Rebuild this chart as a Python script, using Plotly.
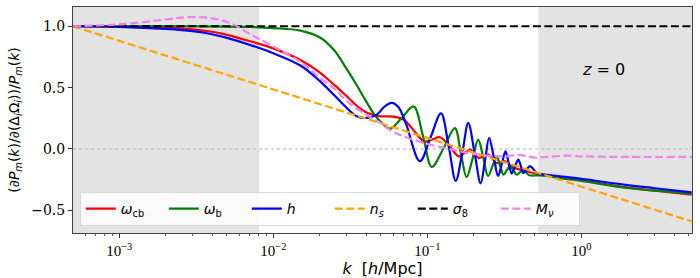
import plotly.graph_objects as go

# ---------------- data ----------------
# omega_cb (red)
k_cb = [5e-4, 1e-3, 2e-3, 3e-3, 4e-3, 5e-3, 7e-3, 0.01, 0.015, 0.02, 0.025, 0.03, 0.035,
        0.04, 0.045, 0.05, 0.06, 0.07, 0.08, 0.096, 0.108, 0.121, 0.14, 0.16, 0.175, 0.19,
        0.202, 0.215, 0.232, 0.25, 0.265, 0.28, 0.30, 0.32, 0.36, 0.42, 0.5, 0.6, 1.0,
        2.0, 3.0, 5.2]
v_cb = [1.0, 0.998, 0.99, 0.975, 0.955, 0.93, 0.88, 0.82, 0.725, 0.625, 0.52, 0.43, 0.35,
        0.30, 0.278, 0.266, 0.264, 0.24, 0.165, 0.06, 0.078, 0.095, 0.02, -0.06, -0.033, -0.006,
        -0.04, -0.073, -0.06, -0.046, -0.08, -0.114, -0.107, -0.10, -0.15, -0.175, -0.20, -0.215, -0.255,
        -0.315, -0.34, -0.372]

# omega_b (green)
k_b = [5e-4, 1e-3, 3e-3, 7e-3, 0.01, 0.015, 0.02, 0.025, 0.03, 0.035, 0.04, 0.045,
       0.05, 0.0572, 0.068, 0.0814, 0.094, 0.107, 0.128, 0.151, 0.165, 0.18, 0.197, 0.214,
       0.231, 0.248, 0.265, 0.282, 0.297, 0.312, 0.328, 0.344, 0.362, 0.381, 0.40, 0.42,
       0.44, 0.46, 0.55, 0.75, 1.0, 2.0, 3.0, 5.2]
v_b = [1.0, 1.0, 1.0, 0.995, 0.985, 0.965, 0.91, 0.80, 0.65, 0.515, 0.39, 0.285,
       0.22, 0.165, 0.25, 0.347, 0.10, -0.147, 0.01, 0.17, -0.03, -0.23, -0.077, 0.076,
       -0.072, -0.22, -0.14, -0.06, -0.135, -0.21, -0.175, -0.14, -0.175, -0.21, -0.19, -0.17,
       -0.193, -0.215, -0.215, -0.24, -0.26, -0.318, -0.34, -0.364]

# h (blue)
k_h = [5e-4, 1e-3, 2e-3, 3e-3, 4e-3, 5e-3, 7e-3, 0.01, 0.015, 0.02, 0.025, 0.03, 0.035,
       0.0405, 0.047, 0.053, 0.0587, 0.065, 0.0725, 0.0895, 0.105, 0.1227, 0.138, 0.153,
       0.169, 0.1845, 0.203, 0.222, 0.237, 0.252, 0.27, 0.288, 0.305, 0.322, 0.337, 0.353,
       0.371, 0.39, 0.405, 0.42, 0.442, 0.464, 0.52, 0.6, 0.75, 1.0, 2.0, 3.0, 5.2]
v_h = [1.0, 0.995, 0.978, 0.96, 0.935, 0.905, 0.85, 0.78, 0.68, 0.555, 0.435, 0.334, 0.265,
       0.253, 0.28, 0.347, 0.375, 0.34, 0.21, -0.10, 0.095, 0.29, 0.015, -0.26,
       -0.025, 0.21, -0.035, -0.28, -0.095, 0.09, -0.065, -0.22, -0.12, -0.02, -0.11, -0.20,
       -0.143, -0.087, -0.14, -0.196, -0.168, -0.14, -0.20, -0.21, -0.225, -0.243, -0.295, -0.32, -0.354]

# n_s (orange)
k_ns = [5e-4, 1e-3, 0.01, 0.1, 1.0, 5.2]
v_ns = [1.0, 0.88, 0.485, 0.09, -0.305, -0.59]

# sigma_8 (black)
k_s8 = [5e-4, 5.2]
v_s8 = [1.0, 1.0]

# M_nu (violet)
k_nu = [5e-4, 1e-3, 2e-3, 2.9e-3, 4e-3, 5e-3, 6e-3, 7e-3, 0.01, 0.015, 0.02, 0.025,
        0.03, 0.04, 0.05, 0.06, 0.075, 0.1, 0.14, 0.2, 0.3, 0.4, 0.5, 0.6, 0.8, 1.0,
        2.0, 5.2]
v_nu = [1.0, 1.015, 1.055, 1.075, 1.065, 1.035, 0.99, 0.94, 0.835, 0.71, 0.58, 0.49,
        0.39, 0.28, 0.21, 0.14, 0.09, 0.04, 0.0, -0.04, -0.06, -0.05, -0.07, -0.065,
        -0.055, -0.06, -0.065, -0.065]

# shaded k ranges
shade_ranges = [(4e-4, 0.0081), (0.525, 10.0)]

# axis ticks
x_tickvals = [1e-3, 1e-2, 1e-1, 1e0]
x_ticktext = ["10<sup>−3</sup>", "10<sup>−2</sup>", "10<sup>−1</sup>", "10<sup>0</sup>"]
y_tickvals = [-0.5, 0.0, 0.5, 1.0]
y_ticktext = ["−0.5", "0.0", "0.5", "1.0"]

# ---------------- figure ----------------
series = [
    ("<i>ω</i><sub>cb</sub>", k_cb, v_cb, "#ff0000", "solid", "spline"),
    ("<i>ω</i><sub>b</sub>", k_b, v_b, "#008000", "solid", "spline"),
    ("<i>h</i>", k_h, v_h, "#0000ff", "solid", "spline"),
    ("<i>n<sub>s</sub></i>", k_ns, v_ns, "#ffa500", "8px,3.5px", "linear"),
    ("<i>σ</i><sub>8</sub>", k_s8, v_s8, "#000000", "8px,3.5px", "linear"),
    ("<i>M<sub>ν</sub></i>", k_nu, v_nu, "#ee82ee", "8px,3.5px", "spline"),
]

fig = go.Figure()
for name, k, v, color, dash, shape in series:
    line = dict(color=color, width=2.2, dash=dash, shape=shape)
    if shape == "spline":
        line["smoothing"] = 1.0
    fig.add_trace(go.Scatter(x=k, y=v, mode="lines", name=name, line=line))

for x0, x1 in shade_ranges:
    fig.add_shape(type="rect", xref="x", yref="paper", x0=x0, x1=x1, y0=0, y1=1,
                  fillcolor="#e3e3e3", line=dict(width=0), layer="below")

fig.add_shape(type="line", xref="paper", yref="y", x0=0, x1=1, y0=0, y1=0,
              line=dict(color="#b0b0b0", width=1, dash="dot"), layer="below")

minor_x = [m * 10.0 ** e for e in range(-4, 1) for m in range(2, 10)]

fig.update_xaxes(
    type="log", range=[-3.3006, 0.7188], automargin=False,
    tickvals=x_tickvals, ticktext=x_ticktext,
    ticks="outside", ticklen=4, tickwidth=1, tickcolor="#333",
    minor=dict(tickvals=minor_x, ticks="outside", ticklen=2, tickwidth=0.8, tickcolor="#555"),
    showline=True, linecolor="#444", linewidth=1, mirror=True,
    showgrid=False, zeroline=False,
    tickfont=dict(family="Liberation Serif", size=15, color="black"),
    title=dict(text="<i>k</i>&nbsp; [<i>h</i>/Mpc]", standoff=2,
               font=dict(family="DejaVu Sans", size=16, color="black")),
)
fig.update_yaxes(
    range=[-0.685, 1.157], automargin=False,
    tickvals=y_tickvals, ticktext=y_ticktext,
    ticks="outside", ticklen=4, tickwidth=1, tickcolor="#333",
    showline=True, linecolor="#444", linewidth=1, mirror=True,
    showgrid=False, zeroline=False,
    tickfont=dict(family="DejaVu Serif", size=14, color="black"),
    title=dict(text="(∂<i>P<sub>m</sub></i>(<i>k</i>)/∂(Δ<sub><i>i</i></sub>Ω<sub><i>i</i></sub>))/<i>P<sub>m</sub></i>(<i>k</i>)",
               standoff=8, font=dict(family="DejaVu Sans", size=14, color="black")),
)

fig.add_annotation(text="<i>z</i> = 0", xref="paper", yref="paper", x=0.895, y=0.774,
                   showarrow=False, font=dict(family="DejaVu Sans", size=16, color="black"))

fig.update_layout(
    width=700, height=278,
    margin=dict(l=73, r=8, t=7, b=45, autoexpand=False),
    paper_bgcolor="white", plot_bgcolor="white",
    showlegend=True,
    legend=dict(orientation="h", x=0.011, y=0.031, xanchor="left", yanchor="bottom",
                bgcolor="rgba(255,255,255,0.85)", bordercolor="#d8d8d8", borderwidth=1,
                font=dict(family="DejaVu Sans", size=14, color="black"),
                entrywidth=38, entrywidthmode="pixels", itemwidth=30,
                tracegroupgap=0),
)

fig.write_html("out.html", config={"displayModeBar": False},
               post_script="document.body.style.margin='0';")
